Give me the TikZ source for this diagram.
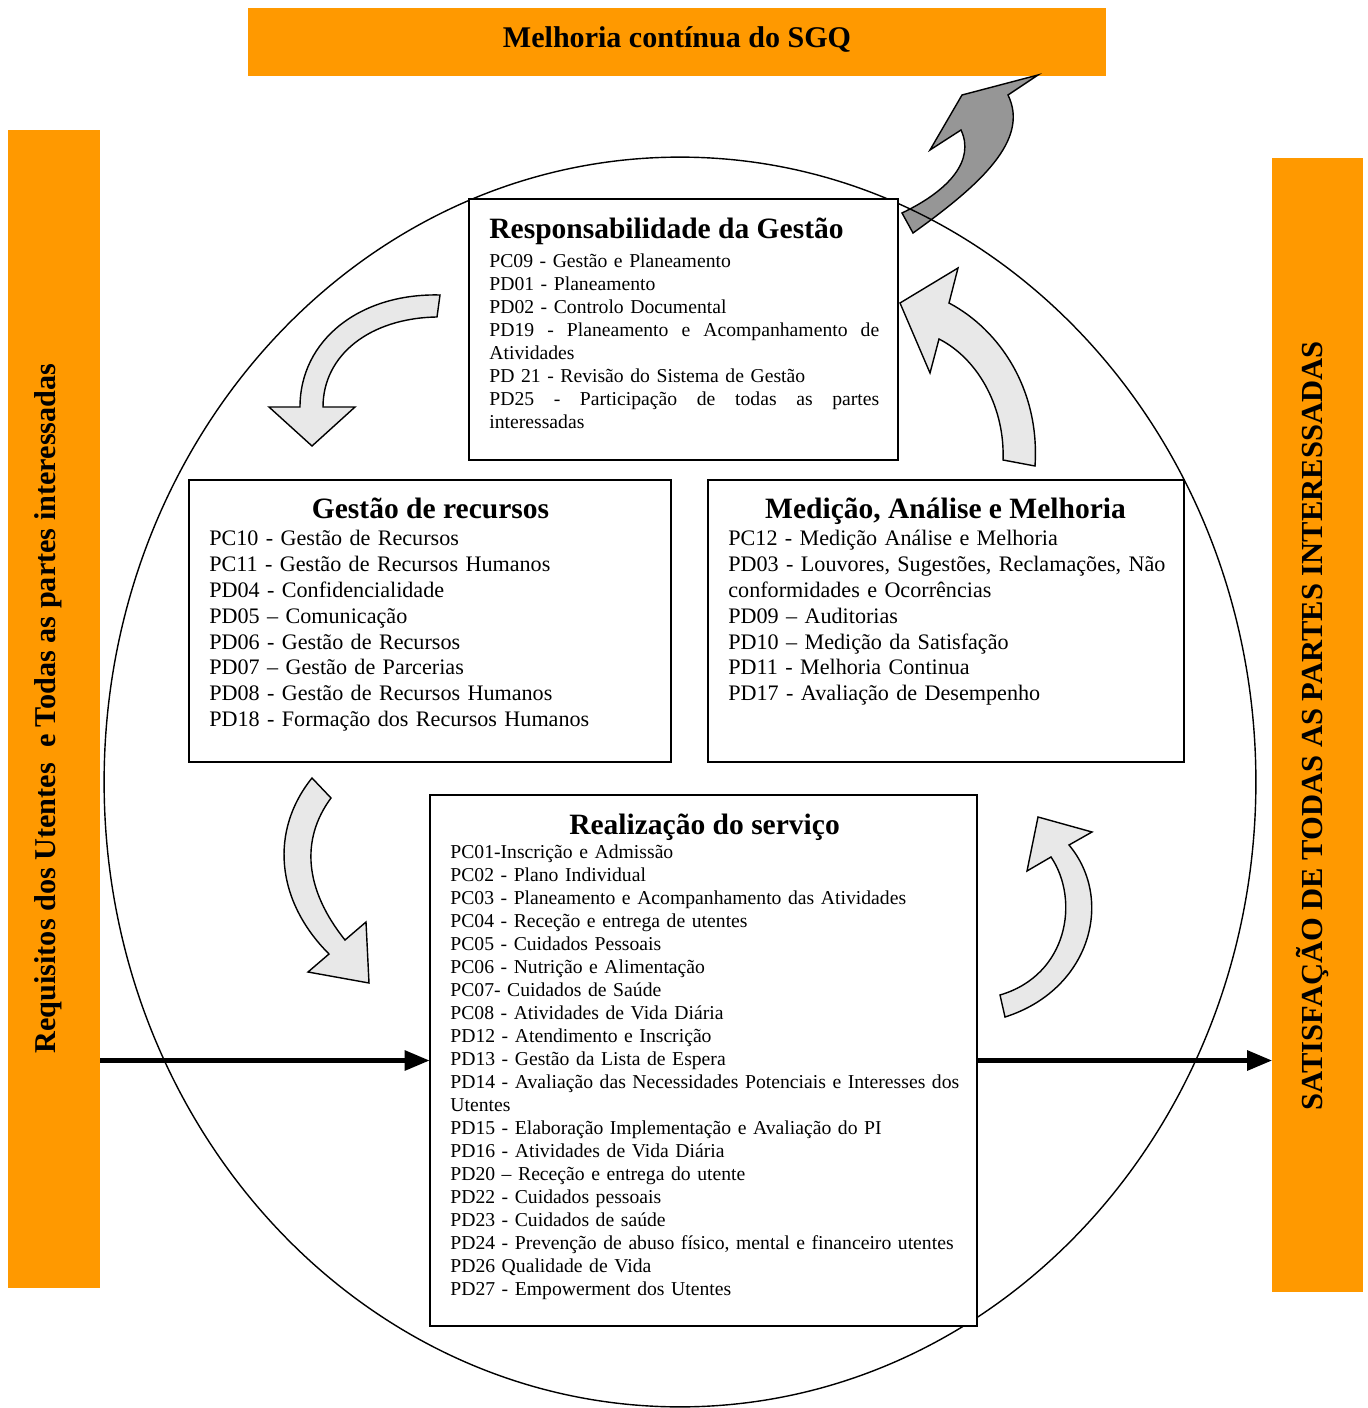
\documentclass[tikz,border=0pt]{standalone}
\usepackage{fontspec}
\setmainfont{Liberation Serif}
\usepackage{tikz}
\usetikzlibrary{arrows}
\usetikzlibrary{calc}
\definecolor{sgqorange}{HTML}{FF9900}
\definecolor{arrowlight}{HTML}{E8E8E8}
\definecolor{arrowdark}{HTML}{969696}
\tikzset{
  orangebar/.style={fill=sgqorange, draw=none, inner sep=0pt},
  procbox/.style={draw=black, line width=1pt, fill=white, inner sep=0pt},
  boxtitle/.style={font=\fontsize{16.8}{20}\selectfont\bfseries, inner sep=0pt},
  sidetext/.style={font=\fontsize{17.2}{20}\selectfont\bfseries, inner sep=0pt, rotate=90},
  smallbody/.style={font=\fontsize{11.2}{13.1}\selectfont, inner sep=0pt, anchor=base west},
  largebody/.style={font=\fontsize{12.6}{14.75}\selectfont, inner sep=0pt, anchor=base west},
  bendarrow/.style={draw=black, line width=0.8pt, fill=arrowlight, line join=miter},
  flow/.style={black, line width=2.3pt, ->, >=triangle 45}
}

\begin{document}
\begin{tikzpicture}[x=0.02cm, y=-0.02cm]
\useasboundingbox (0,0) rectangle (1367,1408);

\node[orangebar, minimum width=17.16cm, minimum height=1.36cm] (melhoria) at (677,42) {};
\node[boxtitle, anchor=base, font=\fontsize{17.1}{20}\selectfont\bfseries] (melhoriaT) at (677,48) {Melhoria contínua do SGQ};
\node[orangebar, minimum width=1.84cm, minimum height=23.16cm] (req) at (54,709) {};
\node[sidetext] (reqT) at (48,708.5) {Requisitos dos Utentes\ \ e Todas as partes interessadas};
\node[orangebar, minimum width=1.82cm, minimum height=22.68cm] (sat) at (1317.5,725) {};
\node[sidetext, font=\fontsize{17.4}{20}\selectfont\bfseries] (satT) at (1312,726) {SATISFAÇÃO DE TODAS AS PARTES INTERESSADAS};

\filldraw[bendarrow, fill=arrowdark] (913,233) .. controls (980,185) and (1030,140) .. (1008,95) -- (1038,75) -- (962,95) -- (930,150) -- (961,130) .. controls (975,160) and (950,190) .. (902,213) -- cycle;
\draw[line width=0.8pt] (680,782) ellipse [x radius=11.52cm, y radius=12.5cm];

\node[procbox, minimum width=8.58cm, minimum height=5.22cm] (resp) at (683.5,329.5) {};
\node[procbox, minimum width=9.64cm, minimum height=5.64cm] (recursos) at (430,621) {};
\node[procbox, minimum width=9.52cm, minimum height=5.64cm] (medicao) at (946,621) {};
\node[procbox, minimum width=10.94cm, minimum height=10.62cm] (servico) at (703.5,1060.5) {};

\node[boxtitle, anchor=base west] (respT) at (489,239) {Responsabilidade da Gestão};
\node[smallbody, text width=7.8cm] (respB) at (489,267.6) {PC09 - Gestão e Planeamento\\
PD01 - Planeamento\\
PD02 - Controlo Documental\\
\makebox[7.8cm][s]{PD19\hfill-\hfill Planeamento\hfill e\hfill Acompanhamento\hfill de}\\
Atividades\\
PD 21 - Revisão do Sistema de Gestão\\
\makebox[7.8cm][s]{PD25\hfill-\hfill Participação\hfill de\hfill todas\hfill as\hfill partes}\\
interessadas};

\node[boxtitle, anchor=base] (recursosT) at (430.5,518) {Gestão de recursos};
\node[largebody, text width=9cm] (recursosB) at (209,545.4) {PC10 - Gestão de Recursos\\
PC11 - Gestão de Recursos Humanos\\
PD04 - Confidencialidade\\
PD05 – Comunicação\\
PD06 - Gestão de Recursos\\
PD07 – Gestão de Parcerias\\
PD08 - Gestão de Recursos Humanos\\
PD18 - Formação dos Recursos Humanos};

\node[boxtitle, anchor=base] (medicaoT) at (945.5,518) {Medição, Análise e Melhoria};
\node[largebody, text width=9.1cm] (medicaoB) at (728,545.4) {PC12 - Medição Análise e Melhoria\\
PD03 - Louvores, Sugestões, Reclamações, Não\\
conformidades e Ocorrências\\
PD09 – Auditorias\\
PD10 – Medição da Satisfação\\
PD11 - Melhoria Continua\\
PD17 - Avaliação de Desempenho};

\node[boxtitle, anchor=base] (servicoT) at (704.5,834) {Realização do serviço};
\node[smallbody, text width=10.4cm] (servicoB) at (450,858.6) {PC01-Inscrição e Admissão\\
PC02 - Plano Individual\\
PC03 - Planeamento e Acompanhamento das Atividades\\
PC04 - Receção e entrega de utentes\\
PC05 - Cuidados Pessoais\\
PC06 - Nutrição e Alimentação\\
PC07- Cuidados de Saúde\\
PC08 - Atividades de Vida Diária\\
PD12 - Atendimento e Inscrição\\
PD13 - Gestão da Lista de Espera\\
PD14 - Avaliação das Necessidades Potenciais e Interesses dos\\
Utentes\\
PD15 - Elaboração Implementação e Avaliação do PI\\
PD16 - Atividades de Vida Diária\\
PD20 – Receção e entrega do utente\\
PD22 - Cuidados pessoais\\
PD23 - Cuidados de saúde\\
PD24 - Prevenção de abuso físico, mental e financeiro utentes\\
PD26 Qualidade de Vida\\
PD27 - Empowerment dos Utentes};

\filldraw[bendarrow] (440,295) .. controls (360,293) and (300,340) .. (300,407) -- (269,407) -- (312,446) -- (355,407) -- (323,407) .. controls (323,355) and (370,318) .. (437,317) -- cycle;
\filldraw[bendarrow] (1035,466) .. controls (1040,390) and (1000,330) .. (949,303) -- (958,268) -- (900,303) -- (930,373) -- (939,339) .. controls (980,360) and (1005,410) .. (1003,460) -- cycle;
\filldraw[bendarrow] (312,778) .. controls (270,830) and (275,900) .. (329,954) -- (308,972) -- (369,983) -- (366,922) -- (345,940) .. controls (305,890) and (300,840) .. (331,798) -- cycle;
\filldraw[bendarrow] (1005,1017) .. controls (1090,990) and (1115,900) .. (1069,845) -- (1092,832) -- (1038,817) -- (1027,871) -- (1051,857) .. controls (1080,900) and (1068,975) .. (1000,995) -- cycle;

\draw[flow] (servico.west -| req.east) -- (servico.west);
\draw[flow] (servico.east) -- (servico.east -| sat.west);
\end{tikzpicture}
\end{document}
